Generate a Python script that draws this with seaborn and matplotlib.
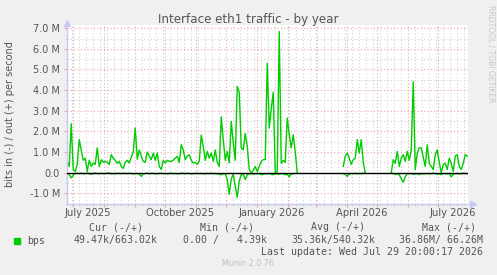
import numpy as np
import pandas as pd
import matplotlib
matplotlib.use('Agg')
import matplotlib.pyplot as plt
import matplotlib.dates as mdates
from matplotlib.ticker import MultipleLocator, FuncFormatter, NullFormatter
import seaborn as sns

# traffic in Mbit/s, one sample every 2 days, three segments with gaps in between
seg_starts = ['2025-06-25 12:00', '2026-03-28 12:00', '2026-05-15 12:00']

out_seg1 = [0.55, 0.3, 2.37, 0.15, 0.05, 0.4, 1.6, 1.08, 0.6, 0.7,
            0.06, 0.6, 0.3, 0.47, 0.4, 1.2, 0.3, 0.63, 0.5, 0.55,
            0.5, 0.4, 0.87, 0.7, 0.6, 0.45, 0.55, 0.3, 0.2, 0.5,
            0.6, 0.47, 0.75, 1.0, 2.16, 0.65, 1.1, 0.8, 0.55, 0.5,
            1.0, 0.8, 0.63, 0.95, 0.6, 0.95, 0.3, 0.15, 0.6, 0.47,
            0.6, 0.55, 0.55, 0.6, 0.7, 0.79, 0.5, 1.35, 1.1, 0.63,
            0.8, 0.87, 0.6, 0.47, 0.5, 0.4, 0.55, 1.82, 1.27, 0.6,
            1.03, 0.7, 0.95, 0.55, 1.1, 0.5, 0.3, 2.7, 1.6, 0.6,
            1.03, 0.47, 2.48, 1.43, 0.6, 4.18, 3.9, 1.2, 1.1, 1.9,
            1.27, 0.15, 0.0, 0.1, 0.3, 0.05, 0.3, 0.55, 0.63, 0.63,
            5.3, 2.16, 3.1, 3.9, 0.0, 0.05, 6.84, 0.45, 0.6, 0.5,
            2.65, 1.84, 1.2, 1.84, 1.0, 0.0]
out_seg2 = [0.3, 0.8, 0.95, 0.7, 0.4, 0.63, 0.7, 1.6, 0.95, 1.6, 0.5, 0.0]
out_seg3 = [0.0, 0.63, 0.45, 1.03, 0.3, 0.7, 0.87, 0.55, 1.03, 0.6,
            1.1, 4.4, 0.15, 0.95, 1.2, 1.2, 0.75, 0.3, 1.35, 0.45,
            0.3, 0.15, 0.87, 1.1, 0.5, 0.0, 0.4, 0.45, 0.15, 0.7,
            0.45, 0.05, 0.8, 0.87, 0.3, 0.15, 0.45, 0.87, 0.8]

in_seg1 = [0.05, 0.1, 0.26, 0.12, 0.04, 0.03, 0.05, 0.02, 0.06, 0.04,
           0.03, 0.05, 0.08, 0.03, 0.02, 0.04, 0.06, 0.03, 0.05, 0.04,
           0.03, 0.02, 0.05, 0.04, 0.06, 0.03, 0.04, 0.05, 0.03, 0.04,
           0.05, 0.03, 0.04, 0.06, 0.05, 0.04, 0.08, 0.18, 0.06, 0.04,
           0.03, 0.05, 0.04, 0.03, 0.06, 0.05, 0.04, 0.03, 0.05, 0.04,
           0.06, 0.04, 0.03, 0.05, 0.04, 0.06, 0.05, 0.03, 0.04, 0.05,
           0.03, 0.04, 0.06, 0.05, 0.04, 0.03, 0.05, 0.04, 0.06, 0.05,
           0.04, 0.05, 0.03, 0.06, 0.04, 0.05, 0.08, 0.1, 0.06, 0.05,
           0.35, 1.05, 0.3, 0.08, 0.66, 1.2, 0.4, 0.1, 0.08, 0.34,
           0.1, 0.06, 0.04, 0.08, 0.05, 0.06, 0.04, 0.1, 0.08, 0.05,
           0.06, 0.04, 0.08, 0.1, 0.06, 0.05, 0.08, 0.04, 0.06, 0.1,
           0.08, 0.2, 0.06, 0.05, 0.04, 0.02]
in_seg2 = [0.05, 0.08, 0.18, 0.06, 0.04, 0.05, 0.03, 0.06, 0.04, 0.05, 0.03, 0.02]
in_seg3 = [0.02, 0.05, 0.08, 0.06, 0.1, 0.3, 0.47, 0.2, 0.06, 0.05,
           0.04, 0.08, 0.06, 0.05, 0.1, 0.04, 0.06, 0.05, 0.04, 0.06,
           0.05, 0.03, 0.04, 0.08, 0.05, 0.1, 0.04, 0.05, 0.06, 0.04,
           0.2, 0.08, 0.05, 0.04, 0.06, 0.05, 0.03, 0.04, 0.05]

month_labels = ['July 2025', 'October 2025', 'January 2026', 'April 2026', 'July 2026']
label_dates = ['2025-07-16', '2025-10-16', '2026-01-16', '2026-04-16', '2026-07-16']

legend_head = ['Cur (-/+)', 'Min (-/+)', 'Avg (-/+)', 'Max (-/+)']
legend_vals = ['49.47k/663.02k', '0.00 /   4.39k', '35.36k/540.32k', '36.86M/ 66.26M']

frames = []
for k, (start, outs, ins) in enumerate(zip(seg_starts, [out_seg1, out_seg2, out_seg3],
                                           [in_seg1, in_seg2, in_seg3])):
    dates = pd.date_range(start, periods=len(outs), freq='2D')
    frames.append(pd.DataFrame({'date': dates,
                                'out': np.array(outs) * 1e6,
                                'in': -np.array(ins) * 1e6,
                                'seg': k}))
df = pd.concat(frames, ignore_index=True)

plt.rcParams['font.family'] = ['DejaVu Sans']
TXT = '#555555'
W, H = 497, 275

fig = plt.figure(figsize=(W / 100, H / 100), dpi=100, facecolor='#f0f0f0')
ax = fig.add_axes([67 / W, 1 - 204 / H, (468 - 67) / W, (204 - 24.5) / H])
ax.set_facecolor('white')

sns.lineplot(data=df, x='date', y='out', units='seg', estimator=None,
             color='#00cc00', lw=1, ax=ax)
sns.lineplot(data=df, x='date', y='in', units='seg', estimator=None,
             color='#00cc00', lw=1, ax=ax)
ax.axhline(0, color='black', lw=1, zorder=4)

ax.set_xlim(pd.Timestamp('2025-06-25 06:00'), pd.Timestamp('2026-07-31 06:00'))
ax.set_ylim(-1.52e6, 7.18e6)

# grid: red major, gray minor, dotted like rrdtool
ax.xaxis.set_major_locator(mdates.MonthLocator())
ax.xaxis.set_minor_locator(mdates.WeekdayLocator(byweekday=mdates.MO))
ax.xaxis.set_major_formatter(NullFormatter())
ax.yaxis.set_major_locator(MultipleLocator(1e6))
ax.yaxis.set_minor_locator(MultipleLocator(0.5e6))
ax.yaxis.set_major_formatter(FuncFormatter(
    lambda v, _: '0.0' if abs(v) < 1 else f'{v / 1e6:.1f} M'))
ax.grid(which='minor', color='#d2d2d2', ls=(0, (1, 2)), lw=0.8)
ax.grid(which='major', color='#eda6a6', ls=(0, (1, 2)), lw=0.8)
ax.set_axisbelow(True)

ax.tick_params(axis='both', which='major', length=2, color='#eda6a6',
               labelsize=7, labelcolor=TXT, pad=3)
ax.tick_params(axis='both', which='minor', length=1.5, color='#d2d2d2')
ax.set_xlabel('')
ax.set_ylabel('')

for s in ['top', 'right']:
    ax.spines[s].set_visible(False)
for s in ['left', 'bottom']:
    ax.spines[s].set_color('#c8c8f5')
    ax.spines[s].set_linewidth(1)
ax.plot([1.0125], [0], marker='>', ms=4, color='#c8c8f5', transform=ax.transAxes, clip_on=False)
ax.plot([0], [1.01], marker='^', ms=4, color='#c8c8f5', transform=ax.transAxes, clip_on=False)

for d, lab in zip(label_dates, month_labels):
    ax.text(pd.Timestamp(d), -0.048, lab, transform=ax.get_xaxis_transform(),
            ha='center', va='center', fontsize=7.2, color=TXT)

fig.text(248 / W, 1 - 19 / H, 'Interface eth1 traffic - by year', ha='center',
         va='center', fontsize=8.6, color=TXT)
fig.text(10 / W, 1 - 114 / H, 'bits in (-) / out (+) per second', rotation=90,
         ha='center', va='center', fontsize=7, color=TXT)
fig.text(491 / W, 1 - 5 / H, 'RRDTOOL / TOBI OETIKER', rotation=270,
         ha='center', va='top', fontsize=5.5, color='#c8c8c8')

mono = dict(family='DejaVu Sans Mono', fontsize=7.1, color=TXT, va='center')
head_x = [116, 227, 338, 449]
for x, t in zip(head_x, legend_head):
    fig.text(x / W, 1 - 227.5 / H, t, ha='center', **mono)
fig.patches.append(plt.Rectangle((14 / W, 1 - 244 / H), 6 / W, 6 / H,
                                 transform=fig.transFigure, color='#00cc00'))
fig.text(27 / W, 1 - 240.5 / H, 'bps', ha='left', **mono)
val_right = [158, 267, 375, 483]
for x, t in zip(val_right, legend_vals):
    fig.text(x / W, 1 - 240.5 / H, t, ha='right', **mono)
fig.text(483 / W, 1 - 252 / H, 'Last update: Wed Jul 29 20:00:17 2026', ha='right', **mono)
fig.text(248 / W, 1 - 264 / H, 'Munin 2.0.76', ha='center', va='center',
         fontsize=5.8, color='#c0c0c0')

fig.savefig('out.png', dpi=100, facecolor=fig.get_facecolor())
